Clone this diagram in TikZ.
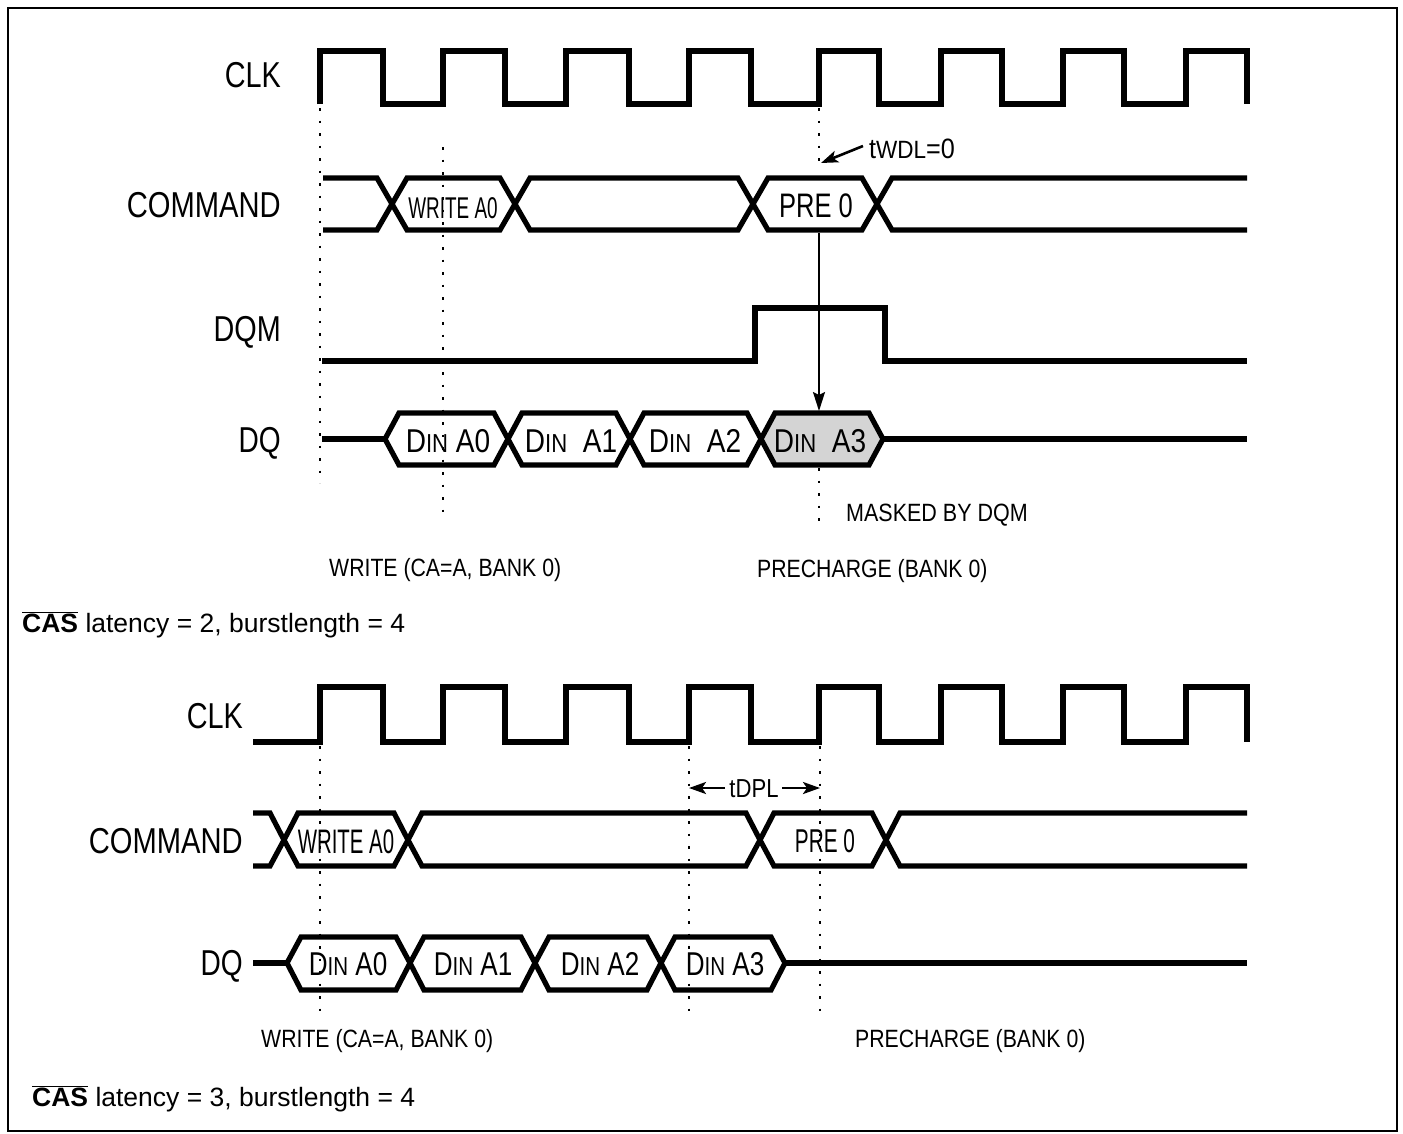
\documentclass[tikz,border=0pt]{standalone}
\usepackage{fontspec}
\setmainfont{Liberation Sans}
\usepackage{graphicx}
\usetikzlibrary{arrows.meta}
\newcommand{\sq}[2]{\scalebox{#1}[1]{#2}}
\newcommand{\fsz}[1]{\fontsize{#1}{#1}\selectfont}
\newcommand{\dinA}[1]{D{\fsz{26}IN}#1}
\begin{document}
\begin{tikzpicture}[x=1pt,y=-1pt,
  sig/.style={line width=5.2pt,line join=miter},
  dotl/.style={line width=2.5pt,dash pattern=on 2.5pt off 10pt},
  lbl/.style={anchor=base east,inner sep=0pt,font=\fsz{36}},
  note/.style={anchor=base west,inner sep=0pt,font=\fsz{25}},
  intxt/.style={anchor=base,inner sep=0pt},
  arr/.style={line width=2.6pt,-{Stealth[length=17pt,width=12pt,inset=4pt]}},
  varr/.style={line width=2pt,-{Stealth[length=19pt,width=12pt,inset=3pt]}}
]
\useasboundingbox (0,0) rectangle (1403,1133);
\draw[line width=2.5pt] (8,8) rectangle (1397,1131);

% ================= TOP DIAGRAM =================
% labels
\node[lbl] (clk1) at (281,87) {\sq{0.8}{CLK}};
\node[lbl] (cmd1) at (281,217) {\sq{0.81}{COMMAND}};
\node[lbl] (dqm1) at (281,341) {\sq{0.8}{DQM}};
\node[lbl] (dq1) at (281,452) {\sq{0.78}{DQ}};

% dotted guides
\draw[dotl] (320,108) -- (320,483);
\draw[dotl] (443,147) -- (443,520);
\draw[dotl] (819,108) -- (819,165);
\draw[dotl] (819,468) -- (819,522);

% CLK
\draw[sig] (320,104) \foreach \r/\f in {320/383,443/505,566/629,689/751,819/879,941/1002,1063/1124,1186/1247}{ -- (\r,104) -- (\r,51) -- (\f,51) -- (\f,104)};

% COMMAND
\draw[sig] (323,178) -- (377,178) -- (392,204) -- (377,230) -- (323,230);
\draw[sig] (392,204) -- (407,178) -- (500,178) -- (515,204) -- (500,230) -- (407,230) -- cycle;
\draw[sig] (515,204) -- (530,178) -- (738,178) -- (753,204) -- (738,230) -- (530,230) -- cycle;
\draw[sig] (753,204) -- (768,178) -- (862,178) -- (877,204) -- (862,230) -- (768,230) -- cycle;
\draw[sig] (1247,178) -- (892,178) -- (877,204) -- (892,230) -- (1247,230);
\node[intxt,font=\fsz{30}] (wr1) at (453,218) {\sq{0.63}{WRITE A0}};
\node[intxt,font=\fsz{34}] (pre1) at (816,217) {\sq{0.75}{PRE 0}};

% DQM
\draw[sig] (322,361) -- (755,361) -- (755,308) -- (885,308) -- (885,361) -- (1247,361);

% DQ
\draw[sig] (322,439) -- (385,439);
\draw[sig] (385,439) -- (399,413) -- (494,413) -- (508,439) -- (494,465) -- (399,465) -- cycle;
\draw[sig] (508,439) -- (522,413) -- (616,413) -- (630,439) -- (616,465) -- (522,465) -- cycle;
\draw[sig] (630,439) -- (644,413) -- (747,413) -- (761,439) -- (747,465) -- (644,465) -- cycle;
\draw[sig,fill={rgb,255:red,212;green,212;blue,212}] (761,439) -- (775,413) -- (869,413) -- (883,439) -- (869,465) -- (775,465) -- cycle;
\draw[sig] (883,439) -- (1247,439);
\node[intxt,font=\fsz{33}] (d10) at (448,452) {\sq{0.85}{\dinA{ A0}}};
\node[intxt,font=\fsz{33}] (d11) at (571,452) {\sq{0.85}{\dinA{\ \ A1}}};
\node[intxt,font=\fsz{33}] (d12) at (695,452) {\sq{0.85}{\dinA{\ \ A2}}};
\node[intxt,font=\fsz{33}] (d13) at (820,452) {\sq{0.85}{\dinA{\ \ A3}}};

% tWDL annotation
\node[anchor=base west,inner sep=0pt,font=\fsz{28}] (twdl) at (869,158) {\sq{0.9}{t{\fsz{25}WDL}=0}};
\coordinate (wdlA) at (863,146);
\coordinate (wdlB) at (821,163);
\draw[arr] (wdlA) -- (wdlB);

% precharge arrow to masked data
\coordinate (preB) at (819,233);
\coordinate (a3T) at (819,411);
\draw[varr] (preB) -- (a3T);

% notes
\node[note] (mask) at (846,521) {\sq{0.86}{MASKED BY DQM}};
\node[note] (wrn1) at (329,576) {\sq{0.85}{WRITE (CA=A, BANK 0)}};
\node[note] (prn1) at (757,577) {\sq{0.85}{PRECHARGE (BANK 0)}};
\node[anchor=base west,inner sep=0pt,font=\fsz{26.5}] (cas1) at (22,632) {\(\overline{\hbox{\bfseries CAS}}\) latency = 2, burstlength = 4};

% ================= BOTTOM DIAGRAM =================
\node[lbl] (clk2) at (243,728) {\sq{0.8}{CLK}};
\node[lbl] (cmd2) at (243,853) {\sq{0.81}{COMMAND}};
\node[lbl] (dq2) at (243,975) {\sq{0.78}{DQ}};

% dotted guides
\draw[dotl] (320,746) -- (320,1013);
\draw[dotl] (689,746) -- (689,1013);
\draw[dotl] (820,746) -- (820,1013);

% CLK
\draw[sig] (253,742) \foreach \r/\f in {320/383,443/505,566/629,689/751,819/879,941/1002,1063/1124,1186/1247}{ -- (\r,742) -- (\r,687) -- (\f,687) -- (\f,742)};

% tDPL
\node[intxt,font=\fsz{26}] (tdpl) at (754,797) {\sq{0.85}{tDPL}};
\coordinate (dplL) at (689,788);
\coordinate (dplR) at (820,788);
\coordinate (dplLs) at (725,788);
\coordinate (dplRs) at (782,788);
\draw[arr] (dplLs) -- (dplL);
\draw[arr] (dplRs) -- (dplR);

% COMMAND
\draw[sig] (253,813) -- (270,813) -- (284,840) -- (270,866) -- (253,866);
\draw[sig] (284,840) -- (298,813) -- (394,813) -- (408,840) -- (394,866) -- (298,866) -- cycle;
\draw[sig] (408,840) -- (422,813) -- (746,813) -- (760,840) -- (746,866) -- (422,866) -- cycle;
\draw[sig] (760,840) -- (774,813) -- (872,813) -- (886,840) -- (872,866) -- (774,866) -- cycle;
\draw[sig] (1247,813) -- (900,813) -- (886,840) -- (900,866) -- (1247,866);
\node[intxt,font=\fsz{34}] (wr2) at (346,853) {\sq{0.6}{WRITE A0}};
\node[intxt,font=\fsz{33}] (pre2) at (825,852) {\sq{0.63}{PRE 0}};

% DQ
\draw[sig] (253,963) -- (287,963);
\draw[sig] (287,963) -- (301,937) -- (396,937) -- (410,963) -- (396,990) -- (301,990) -- cycle;
\draw[sig] (410,963) -- (424,937) -- (521,937) -- (535,963) -- (521,990) -- (424,990) -- cycle;
\draw[sig] (535,963) -- (549,937) -- (647,937) -- (661,963) -- (647,990) -- (549,990) -- cycle;
\draw[sig] (661,963) -- (675,937) -- (771,937) -- (785,963) -- (771,990) -- (675,990) -- cycle;
\draw[sig] (785,963) -- (1247,963);
\node[intxt,font=\fsz{33}] (d20) at (348,975) {\sq{0.79}{\dinA{ A0}}};
\node[intxt,font=\fsz{33}] (d21) at (473,975) {\sq{0.79}{\dinA{ A1}}};
\node[intxt,font=\fsz{33}] (d22) at (600,975) {\sq{0.79}{\dinA{ A2}}};
\node[intxt,font=\fsz{33}] (d23) at (725,975) {\sq{0.79}{\dinA{ A3}}};

% notes
\node[note] (wrn2) at (261,1047) {\sq{0.85}{WRITE (CA=A, BANK 0)}};
\node[note] (prn2) at (855,1047) {\sq{0.85}{PRECHARGE (BANK 0)}};
\node[anchor=base west,inner sep=0pt,font=\fsz{26.5}] (cas2) at (32,1106) {\(\overline{\hbox{\bfseries CAS}}\) latency = 3, burstlength = 4};
\end{tikzpicture}
\end{document}
